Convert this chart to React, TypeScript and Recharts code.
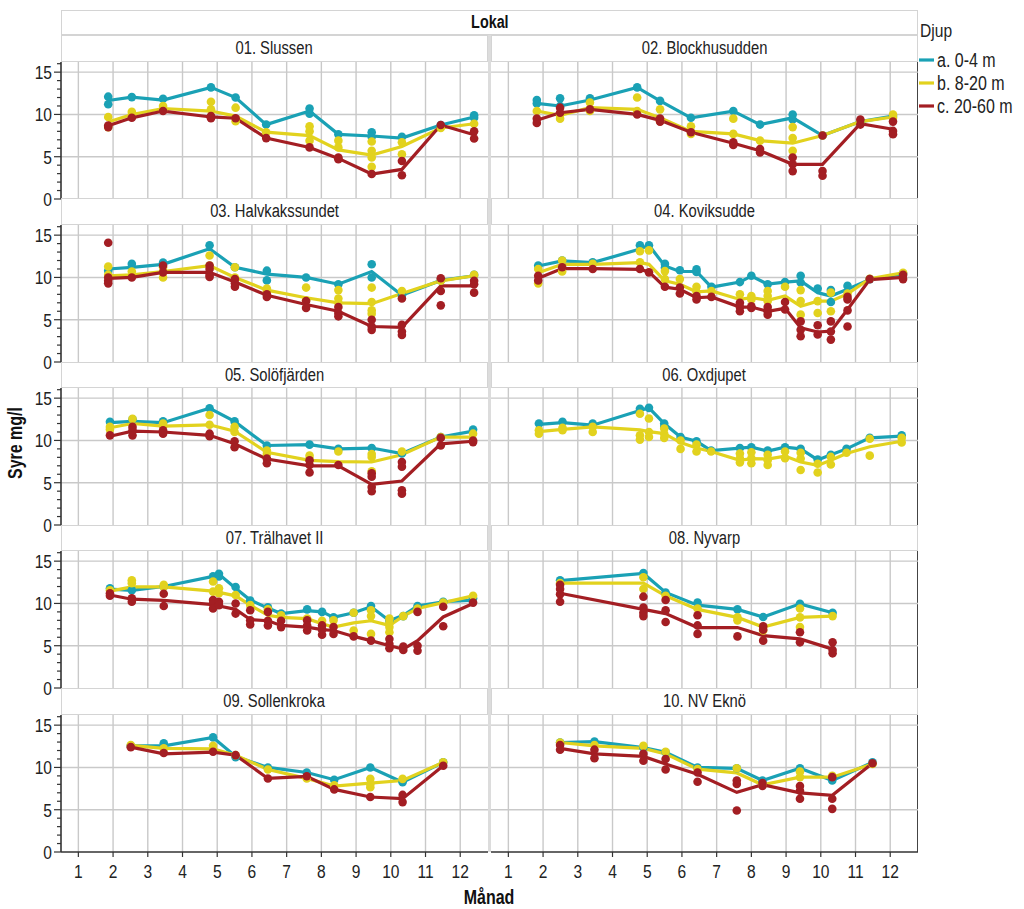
import React from 'react';
import { ComposedChart, Line, Scatter, XAxis, YAxis, CartesianGrid } from 'recharts';

const FONT = "'Liberation Sans', Arial, sans-serif";
const NARROW = 0.82;

const monthTicks = [1, 2, 3, 4, 5, 6, 7, 8, 9, 10, 11, 12];
const yMinorTicks = [0, 1, 2, 3, 4, 5, 6, 7, 8, 9, 10, 11, 12, 13, 14, 15, 16];
const gridYValues = [5, 10, 15];
const seriesNames = ['a. 0-4 m', 'b. 8-20 m', 'c. 20-60 m'];
const seriesColors = ['#1aa1b5', '#e2d21e', '#a31e23'];
const legendTitle = 'Djup';
const stripTitle = 'Lokal';
const xTitle = 'Månad';
const yTitle = 'Syre mg/l';

// 01. Slussen
const p01Months = [1.86, 2.54, 3.44, 4.82, 5.53, 6.41, 7.66, 8.49, 9.45, 10.32, 11.44, 12.4];
const p01A = [11.65, 12.05, 11.7, 13.2, 12.0, 8.8, 10.4, 7.65, 7.45, 7.2, 8.75, 9.7];
const p01B = [9.1, 10.0, 10.7, 10.4, 9.8, 7.9, 7.5, 5.8, 5.2, 6.2, 8.4, 8.9];
const p01C = [8.65, 9.6, 10.4, 9.7, 9.55, 7.2, 6.1, 4.8, 2.95, 3.5, 8.75, 7.6];
const p01APts = [[12.1, 11.2], [12.05], [11.85], [13.2], [12.0], [8.8], [10.7, 10.1], [7.65], [7.9, 7.35], [7.35], [8.75], [9.9, 9.6]];
const p01BPts = [[9.7, 8.5], [10.3], [11.0, 10.5], [11.5, 10.6], [10.8, 9.2], [7.9], [8.6, 8.0, 6.9], [6.9, 6.1], [6.8, 5.7, 4.9, 3.8], [6.7, 5.3], [8.4], [8.9]];
const p01CPts = [[8.7, 8.5], [9.6], [10.4], [9.8, 9.55], [9.55], [7.2], [6.1], [4.9, 4.7], [2.95], [4.5, 2.8], [8.75], [8.0, 7.15]];

// 02. Blockhusudden
const p02Months = [1.82, 2.49, 3.35, 4.71, 5.37, 6.26, 7.48, 8.25, 9.19, 10.05, 11.14, 12.08];
const p02A = [11.3, 11.0, 11.7, 13.2, 11.6, 9.6, 10.4, 8.8, 9.6, 7.5, 9.15, 9.8];
const p02B = [10.4, 9.9, 10.8, 10.6, 9.6, 8.0, 7.7, 6.9, 6.6, 7.5, 9.15, 9.7];
const p02C = [9.3, 10.2, 10.6, 10.0, 9.3, 7.9, 6.6, 5.7, 4.1, 4.1, 8.9, 8.25];
const p02APts = [[11.7, 11.3], [11.9, 11.0], [11.9], [13.2], [11.6], [9.6], [10.4], [8.8], [10.0, 9.4], [7.5], [9.15], [9.8]];
const p02BPts = [[10.4], [9.5, 10.0], [11.4, 10.4], [12.0, 10.4], [10.6, 9.2], [8.6, 7.7], [9.5, 7.7], [6.9], [8.5, 7.2, 5.7], [7.5], [9.15], [10.0, 9.6]];
const p02CPts = [[9.5, 9.0], [10.8, 10.2], [10.6], [10.0], [9.5, 9.15], [7.9], [6.7, 6.4], [5.9, 5.5], [4.9, 4.1, 3.3], [7.5, 3.3, 2.75], [9.4, 8.8], [9.15, 8.05, 7.65]];

// 03. Halvkakssundet
const p03Months = [1.86, 2.54, 3.44, 4.78, 5.51, 6.43, 7.56, 8.49, 9.45, 10.32, 11.44, 12.4];
const p03A = [11.0, 11.2, 11.55, 13.4, 11.2, 10.4, 10.0, 9.2, 10.7, 7.9, 9.65, 10.2];
const p03B = [10.2, 10.3, 10.7, 11.4, 10.0, 8.5, 7.6, 7.0, 6.9, 8.1, 9.6, 10.2];
const p03C = [9.9, 10.0, 10.6, 10.6, 9.45, 7.9, 6.8, 6.0, 4.2, 4.1, 9.0, 9.0];
const p03APts = [[10.8], [11.6], [11.75], [13.8], [11.2], [10.8, 9.65], [10.0], [9.2], [11.55, 10.0], [7.9], [9.65], [10.3]];
const p03BPts = [[11.3, 10.3], [10.7], [11.2, 10.0], [12.6, 11.4], [11.2, 10.0], [8.7, 8.4], [8.8, 7.3], [8.5, 7.5, 7.0], [8.8, 7.1, 6.1, 5.7], [8.4], [9.6], [10.3]];
const p03CPts = [[14.1, 10.0, 9.6, 9.3], [10.0], [11.4, 10.6], [11.4, 11.0, 10.3, 10.05], [9.8, 9.3, 8.9], [8.0, 7.7], [7.2, 6.4], [6.5, 5.8, 5.4], [5.0, 4.2, 3.8], [7.5, 4.4, 3.6, 3.2], [9.9, 8.4, 6.7], [9.6, 9.2, 8.2]];

// 04. Koviksudde
const p04Months = [1.86, 2.55, 3.43, 4.79, 5.05, 5.51, 5.94, 6.42, 6.85, 7.67, 8.0, 8.47, 8.97, 9.42, 9.91, 10.29, 10.77, 11.41, 12.37];
const p04A = [11.35, 11.95, 11.75, 13.35, 13.8, 11.35, 10.7, 10.7, 8.85, 9.45, 10.15, 9.2, 9.45, 9.6, 8.2, 7.8, 8.6, 9.75, 10.45];
const p04B = [10.55, 11.55, 11.55, 11.75, 11.55, 9.6, 9.2, 8.3, 8.4, 7.4, 7.6, 7.3, 7.8, 6.6, 7.2, 7.2, 8.05, 9.85, 10.55];
const p04C = [9.9, 11.05, 11.05, 10.95, 10.65, 8.85, 8.6, 7.6, 7.7, 6.5, 6.5, 6.0, 6.35, 4.05, 3.55, 3.65, 6.2, 9.75, 10.0];
const p04APts = [[11.4], [12.0], [11.8], [13.8], [13.8], [11.6, 11.15], [10.85], [10.95, 10.65], [8.9], [9.45], [10.2], [9.2], [9.45], [10.2, 9.4], [8.7], [8.5, 7.1], [9.0], [9.8], [10.45]];
const p04BPts = [[11.0, 9.3], [12.0, 10.7], [11.6], [13.1, 11.8], [13.2], [10.75, 9.8], [9.8], [8.9, 8.3], [8.4], [8.0], [7.8, 7.4], [8.4, 7.8, 7.2], [8.9], [8.5, 7.2, 5.6], [7.2, 5.8], [8.2, 6.0], [8.1], [9.85], [10.55]];
const p04CPts = [[10.2, 9.65], [11.2], [11.0], [11.0], [10.6], [8.9], [8.8, 8.1], [7.8, 7.4], [7.7], [7.0, 6.5, 6.0], [6.6, 6.4], [6.5, 6.0, 5.6], [7.1, 6.2], [4.8, 3.8, 3.05], [4.35, 3.25], [4.8, 3.6, 2.65], [7.7, 7.4, 6.1, 4.2], [9.8], [10.3, 9.8]];

// 05. Solöfjärden
const p05Months = [1.91, 2.56, 3.44, 4.78, 5.5, 6.43, 7.66, 8.49, 9.45, 10.32, 11.44, 12.37];
const p05A = [12.1, 12.25, 12.1, 13.8, 12.25, 9.4, 9.5, 9.0, 9.1, 8.45, 10.4, 11.1];
const p05B = [11.5, 12.0, 11.7, 11.85, 11.1, 8.6, 7.65, 7.5, 7.45, 8.3, 10.4, 10.4];
const p05C = [10.5, 11.1, 11.0, 10.6, 9.6, 7.8, 7.0, 7.0, 4.8, 5.2, 9.6, 9.9];
const p05APts = [[12.2], [12.5], [12.25, 12.1], [13.8], [12.25], [9.4], [9.5], [9.0], [9.1], [8.45], [10.4], [11.3]];
const p05BPts = [[11.6, 11.3], [12.55], [12.0, 11.7], [13.0, 11.85], [11.6, 11.0], [8.8, 8.4], [8.2, 7.65], [8.7], [8.4, 8.05, 6.35], [8.7], [10.4], [10.8]];
const p05CPts = [[10.6], [11.6, 11.2, 10.6], [11.2, 10.8], [10.8, 10.5], [9.9, 9.2], [7.85, 7.3], [7.65, 7.1, 6.2], [7.1], [6.1, 5.7, 4.5, 4.0], [7.45, 6.9, 4.1, 3.7], [10.3, 9.4], [10.0, 9.8]];

// 06. Oxdjupet
const p06Months = [1.88, 2.56, 3.43, 4.79, 5.05, 5.49, 5.96, 6.42, 6.84, 7.67, 8.0, 8.47, 8.97, 9.42, 9.91, 10.29, 10.74, 11.41, 12.33];
const p06A = [11.9, 12.1, 11.8, 13.55, 13.85, 12.0, 10.4, 9.9, 8.8, 9.1, 9.2, 8.75, 9.2, 9.0, 7.7, 8.3, 9.0, 10.3, 10.5];
const p06B = [11.05, 11.3, 11.6, 11.25, 11.05, 10.8, 9.75, 9.1, 8.7, 7.65, 7.85, 7.8, 8.15, 7.45, 7.05, 7.65, 8.45, 9.25, 9.9];
const p06C: number[] = [];
const p06APts = [[12.0], [12.2], [12.0], [13.75], [13.85], [12.0, 11.6], [10.4], [9.9], [8.8], [9.1], [9.2], [8.8], [9.2], [9.0], [7.75], [8.3], [9.0], [10.3], [10.6]];
const p06BPts = [[11.2, 10.8], [11.5, 11.2], [11.6, 11.0], [13.15, 10.6, 10.1], [12.6, 11.0, 10.4], [11.4, 10.8, 10.3], [10.0, 9.0], [9.5, 8.7], [8.7], [8.45, 7.9, 7.4], [8.6, 7.9, 7.3], [8.3, 7.65, 7.1], [8.7, 7.9], [8.55, 7.85, 6.5], [7.25, 6.2], [8.05, 7.15], [8.55], [10.2, 8.2], [10.3, 9.75]];
const p06CPts: number[][] = [];

// 07. Trälhavet II
const p07Months = [1.91, 2.54, 3.46, 4.88, 5.05, 5.53, 5.95, 6.46, 6.84, 7.59, 8.02, 8.35, 8.93, 9.43, 9.96, 10.36, 10.77, 11.51, 12.37];
const p07A = [11.7, 11.55, 12.0, 13.2, 13.45, 11.8, 10.4, 9.45, 8.8, 9.15, 9.0, 8.35, 8.9, 9.6, 7.95, 8.6, 9.7, 10.2, 10.4];
const p07B = [11.45, 11.95, 11.95, 11.45, 11.3, 10.9, 9.8, 8.6, 8.35, 8.2, 7.6, 7.2, 7.7, 7.95, 7.4, 8.5, 9.4, 10.1, 10.9];
const p07C = [11.0, 10.5, 10.35, 9.85, 9.7, 9.3, 8.1, 7.95, 7.4, 7.2, 6.9, 6.8, 6.1, 5.6, 5.0, 4.6, 5.6, 8.4, 10.0];
const p07APts = [[11.8], [11.55], [12.0], [13.2], [13.5, 13.2], [11.95], [10.35], [9.55], [8.8], [9.3], [9.0], [8.35], [8.9], [9.7], [7.95], [8.5], [9.7], [10.2], [10.6]];
const p07BPts = [[11.55], [12.75, 12.4], [12.2, 11.95], [12.6, 11.4], [11.8, 11.2], [11.0], [9.8], [9.3], [8.6], [8.2], [7.95], [8.0], [8.9, 6.8], [9.2, 8.5, 6.4], [8.2, 7.7, 7.2, 6.6], [8.5], [9.4], [10.1], [10.9]];
const p07CPts = [[11.2, 10.9], [10.6, 10.2], [11.15, 9.7], [10.4, 9.95, 9.4], [10.2, 9.8], [10.0, 8.8], [9.2, 8.0, 7.5], [9.0, 7.95, 7.4], [7.95, 7.2], [8.0, 7.4, 6.8], [7.4, 6.9, 6.3], [7.2, 6.4], [6.1], [5.6], [5.8, 5.2, 4.7], [4.9, 4.5], [9.0, 5.0, 4.4], [9.6, 7.3], [10.1]];

// 08. Nyvarp
const p08Months = [2.49, 4.89, 5.53, 6.45, 7.6, 8.34, 9.4, 10.34];
const p08A = [12.7, 13.55, 11.3, 9.8, 9.3, 8.4, 9.95, 8.9];
const p08B = [12.4, 12.4, 10.9, 9.3, 8.35, 7.2, 8.35, 8.5];
const p08C = [11.2, 9.3, 8.8, 7.15, 7.15, 6.2, 5.8, 4.6];
const p08APts = [[12.75], [13.6], [11.3], [10.1], [9.3], [8.4], [9.95], [8.9]];
const p08BPts = [[12.4], [13.1, 11.7], [10.9], [9.4], [8.35, 8.0], [7.2, 6.8], [9.4, 8.35, 7.2], [8.5]];
const p08CPts = [[12.2, 11.7, 11.1, 10.2], [10.8, 9.5, 8.9, 8.5], [10.4, 9.2, 7.8], [8.6, 7.4, 6.4], [6.1], [7.3, 6.9, 5.6], [6.6, 5.4], [5.4, 4.5, 4.1]];

// 09. Sollenkroka
const p09Months = [2.51, 3.46, 4.88, 5.53, 6.46, 7.58, 8.37, 9.41, 10.34, 11.51];
const p09A = [12.55, 12.55, 13.55, 11.3, 10.0, 9.4, 8.55, 10.0, 8.25, 10.6];
const p09B = [12.6, 12.25, 12.2, 11.45, 9.75, 8.7, 7.8, 8.15, 8.45, 10.6];
const p09C = [12.4, 11.6, 11.8, 11.45, 8.7, 8.95, 7.4, 6.5, 6.3, 10.2];
const p09APts = [[12.55], [12.85], [13.55], [11.2], [10.0], [9.4], [8.55], [10.0], [8.25], [10.6]];
const p09BPts = [[12.65], [12.25], [12.55], [11.45], [9.75], [8.7], [7.9], [8.65, 8.05, 7.65], [8.65], [10.6]];
const p09CPts = [[12.4], [11.7], [11.85], [11.45], [8.7], [8.95], [7.4], [6.5], [6.75, 5.9], [10.2]];

// 10. NV Eknö
const p10Months = [2.49, 3.48, 4.89, 5.53, 6.45, 7.58, 8.32, 9.4, 10.33, 11.49];
const p10A = [12.95, 13.05, 12.35, 11.8, 10.0, 9.9, 8.45, 9.9, 8.45, 10.6];
const p10B = [12.95, 12.55, 12.25, 11.6, 9.8, 9.35, 7.95, 8.85, 8.85, 10.4];
const p10C = [12.25, 11.6, 11.3, 10.4, 9.2, 7.05, 7.95, 7.0, 6.7, 10.5];
const p10APts = [[12.95], [13.05], [12.35], [11.8], [10.0], [9.9], [8.45], [9.9], [8.45], [10.6]];
const p10BPts = [[12.95], [12.65], [12.55], [11.85], [9.8], [9.9], [7.95], [9.5, 8.85], [9.0], [10.4]];
const p10CPts = [[12.65, 12.1], [12.1, 11.1], [11.6, 10.8], [11.0, 9.75], [9.4, 8.3], [8.45, 8.05, 4.9], [8.15, 7.8], [7.8, 7.25, 6.3], [8.85, 6.3, 5.1], [10.5]];

const panelNames = ['01. Slussen', '02. Blockhusudden', '03. Halvkakssundet', '04. Koviksudde', '05. Solöfjärden', '06. Oxdjupet', '07. Trälhavet II', '08. Nyvarp', '09. Sollenkroka', '10. NV Eknö'];
const panelMonths = [p01Months, p02Months, p03Months, p04Months, p05Months, p06Months, p07Months, p08Months, p09Months, p10Months];
const panelMeans = [
  [p01A, p01B, p01C], [p02A, p02B, p02C], [p03A, p03B, p03C], [p04A, p04B, p04C], [p05A, p05B, p05C],
  [p06A, p06B, p06C], [p07A, p07B, p07C], [p08A, p08B, p08C], [p09A, p09B, p09C], [p10A, p10B, p10C],
];
const panelPts = [
  [p01APts, p01BPts, p01CPts], [p02APts, p02BPts, p02CPts], [p03APts, p03BPts, p03CPts], [p04APts, p04BPts, p04CPts], [p05APts, p05BPts, p05CPts],
  [p06APts, p06BPts, p06CPts], [p07APts, p07BPts, p07CPts], [p08APts, p08BPts, p08CPts], [p09APts, p09BPts, p09CPts], [p10APts, p10BPts, p10CPts],
];

const KEYS = ['a', 'b', 'c'];
const ROW_STEP = 163.3;
const PLOT_TOP0 = 61.5;
const PLOT_H = 137;
const HEADER_H = 26.5;
const EXTRA = 12;

const YTick = (props: any) => {
  const { x, y, payload } = props;
  const v = payload.value;
  const major = v % 5 === 0;
  return (
    <g>
      <line x1={x - (major ? 7 : 4)} x2={x} y1={y} y2={y} stroke="#333" strokeWidth={1.2} />
      {major && (
        <text
          transform={`translate(${x - 9},${y}) scale(${NARROW},1)`}
          x={0}
          y={0}
          dy="0.36em"
          textAnchor="end"
          fontSize={19}
          fill="#222"
          fontFamily={FONT}
        >
          {v}
        </text>
      )}
    </g>
  );
};

const XTick = (props: any) => {
  const { x, y, payload } = props;
  return (
    <text
      transform={`translate(${x},${y}) scale(${NARROW},1)`}
      x={0}
      y={0}
      dy="0.71em"
      textAnchor="middle"
      fontSize={19}
      fill="#222"
      fontFamily={FONT}
    >
      {payload.value}
    </text>
  );
};

const Dot = (color: string) => (props: any) => {
  const { cx, cy } = props;
  if (cx == null || cy == null) return <g />;
  return <circle cx={cx} cy={cy} r={4.3} fill={color} />;
};

const narrowSpan = (text: string, origin = 'center') => (
  <span style={{ display: 'inline-block', transform: `scaleX(${NARROW})`, transformOrigin: origin, whiteSpace: 'nowrap' }}>
    {text}
  </span>
);

function Panel({ idx }: { idx: number }) {
  const col = idx % 2;
  const row = Math.floor(idx / 2);
  const bottom = row === 4;
  const months = panelMonths[idx];
  const means = panelMeans[idx];
  const pts = panelPts[idx];
  const plotTop = PLOT_TOP0 + ROW_STEP * row;
  const left = col === 0 ? 0 : 491;
  const width = col === 0 ? 488 : 427;
  const height = PLOT_H + (bottom ? 42 : EXTRA);
  const rows = months.map((m, i) => ({
    x: m,
    a: means[0][i] ?? null,
    b: means[1][i] ?? null,
    c: means[2][i] ?? null,
  }));
  const scatterData = pts.map((series) =>
    series.flatMap((vals, i) => vals.map((v) => ({ x: months[i], y: v })))
  );
  const items: any[] = [];
  [0, 1, 2].forEach((s) => {
    if (means[s].length > 0) {
      items.push(
        <Line
          key={'l' + s}
          type="linear"
          dataKey={KEYS[s]}
          stroke={seriesColors[s]}
          strokeWidth={3.2}
          dot={false}
          activeDot={false}
          connectNulls
          isAnimationActive={false}
        />
      );
    }
    if (scatterData[s].length > 0) {
      items.push(
        <Scatter
          key={'s' + s}
          data={scatterData[s]}
          fill={seriesColors[s]}
          shape={Dot(seriesColors[s])}
          isAnimationActive={false}
        />
      );
    }
  });
  return (
    <>
      <div
        style={{
          position: 'absolute',
          left: col === 0 ? 61 : 491,
          top: plotTop,
          width: 427,
          height: PLOT_H,
          background: '#fff',
        }}
      />
      <div
        style={{
          position: 'absolute',
          left: col === 0 ? 61 : 491,
          top: plotTop - HEADER_H,
          width: 427,
          height: HEADER_H,
          background: '#fff',
          border: '1px solid #d4d4d4',
          boxSizing: 'border-box',
          fontFamily: FONT,
          fontSize: 18,
          color: '#222',
          textAlign: 'center',
          lineHeight: HEADER_H - 2 + 'px',
        }}
      >
        {narrowSpan(panelNames[idx])}
      </div>
      {col === 1 && (
        <div
          style={{
            position: 'absolute',
            left: 916.5,
            top: plotTop,
            width: 1.6,
            height: PLOT_H,
            background: '#444',
          }}
        />
      )}
      <div style={{ position: 'absolute', left, top: plotTop, width, height }}>
        <ComposedChart
          width={width}
          height={height}
          data={rows}
          margin={{ top: 0, right: 0, bottom: bottom ? 0 : EXTRA, left: 0 }}
        >
          <CartesianGrid
            stroke="#c9c9c9"
            strokeWidth={1.4}
            verticalValues={monthTicks}
            horizontalValues={gridYValues}
          />
          <XAxis
            type="number"
            dataKey="x"
            domain={[0.5, 12.8]}
            ticks={monthTicks}
            interval={0}
            allowDataOverflow
            hide={!bottom}
            height={bottom ? 42 : 0}
            tickSize={5}
            tickMargin={8}
            axisLine={{ stroke: '#333', strokeWidth: 1.6 }}
            tickLine={{ stroke: '#333', strokeWidth: 1.2 }}
            tick={<XTick />}
          />
          <YAxis
            type="number"
            dataKey="y"
            domain={[0, 16.2]}
            ticks={yMinorTicks}
            interval={0}
            allowDataOverflow
            hide={col === 1}
            width={col === 0 ? 61 : 0}
            tickSize={0}
            tickMargin={0}
            tickLine={false}
            axisLine={{ stroke: '#333', strokeWidth: 1.6 }}
            tick={<YTick />}
          />
          {items}
        </ComposedChart>
      </div>
    </>
  );
}

export default function App() {
  const panelIdx = [0, 1, 2, 3, 4, 5, 6, 7, 8, 9];
  return (
    <div style={{ position: 'absolute', left: 0, top: 0, width: 1024, height: 909, background: '#fff', fontFamily: FONT }}>
      <div style={{ position: 'absolute', left: 488, top: 34, width: 3, height: 818, background: '#dcdcdc' }} />
      <div
        style={{
          position: 'absolute',
          left: 61,
          top: 10,
          width: 857,
          height: 25,
          border: '1px solid #d4d4d4',
          boxSizing: 'border-box',
          background: '#fff',
          textAlign: 'center',
          fontWeight: 'bold',
          fontSize: 17.5,
          lineHeight: '23px',
          color: '#111',
        }}
      >
        {narrowSpan(stripTitle)}
      </div>
      {panelIdx.map((i) => (
        <Panel key={i} idx={i} />
      ))}
      <div
        style={{
          position: 'absolute',
          left: 14.5,
          top: 443,
          transform: `translate(-50%, -50%) rotate(-90deg) scaleX(${NARROW})`,
          fontWeight: 'bold',
          fontSize: 19.5,
          whiteSpace: 'nowrap',
          color: '#111',
        }}
      >
        {yTitle}
      </div>
      <div
        style={{
          position: 'absolute',
          left: 489,
          top: 897,
          transform: `translate(-50%, -50%) scaleX(${NARROW})`,
          fontWeight: 'bold',
          fontSize: 19.5,
          whiteSpace: 'nowrap',
          color: '#111',
        }}
      >
        {xTitle}
      </div>
      <div style={{ position: 'absolute', left: 920, top: 20, fontSize: 19, color: '#222', lineHeight: '22px' }}>
        {narrowSpan(legendTitle, 'left')}
      </div>
      {seriesNames.map((n, i) => (
        <div
          key={n}
          style={{
            position: 'absolute',
            left: 919,
            top: 60 + i * 23 - 11,
            height: 22,
            display: 'flex',
            alignItems: 'center',
            fontSize: 19.5,
            color: '#222',
            whiteSpace: 'nowrap',
          }}
        >
          <svg width={16} height={22} style={{ marginRight: 2 }}>
            <line x1={0} x2={15} y1={11} y2={11} stroke={seriesColors[i]} strokeWidth={3.2} />
          </svg>
          {narrowSpan(n, 'left')}
        </div>
      ))}
    </div>
  );
}
